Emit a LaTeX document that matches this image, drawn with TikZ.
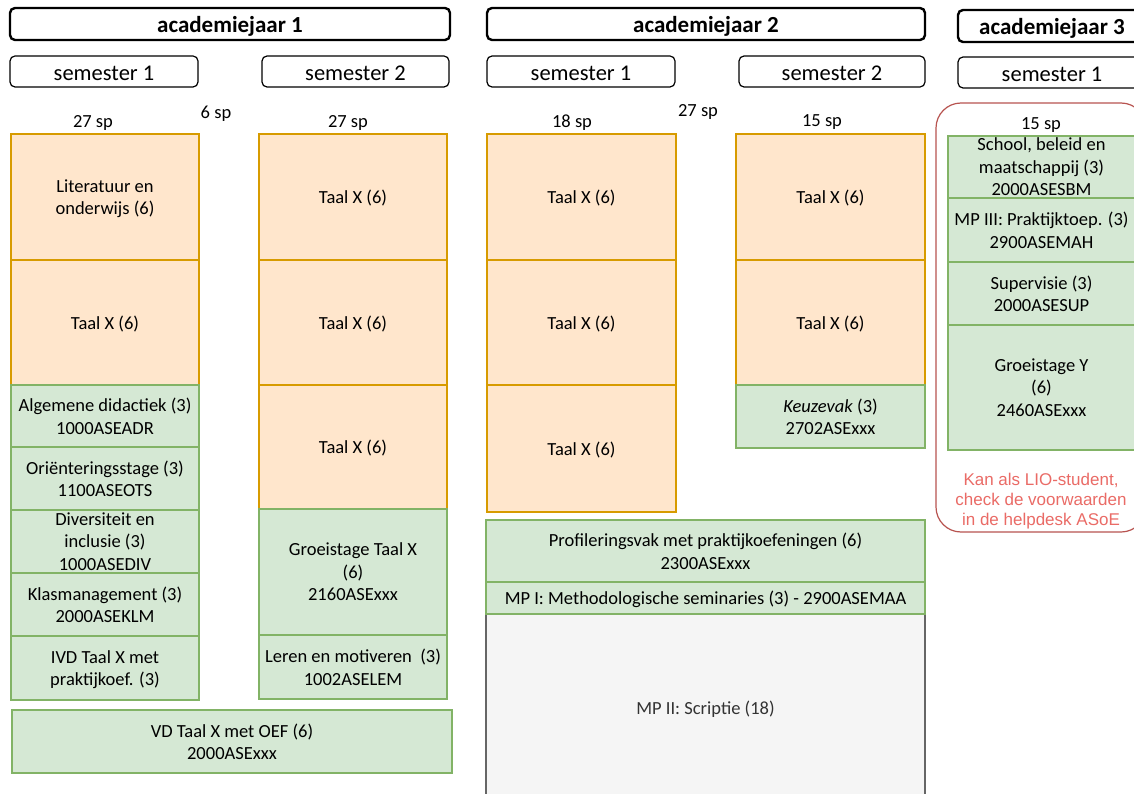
\documentclass[tikz,border=0pt]{standalone}
\usepackage{fontspec}
\setmainfont{Carlito}
\newfontfamily\arialf{Liberation Sans}
\definecolor{orfill}{HTML}{FFE6CC}
\definecolor{ordraw}{HTML}{D79B00}
\definecolor{grfill}{HTML}{D5E8D4}
\definecolor{grdraw}{HTML}{82B366}
\definecolor{gyfill}{HTML}{F5F5F5}
\definecolor{gydraw}{HTML}{666666}
\definecolor{gytext}{HTML}{333333}
\definecolor{rddraw}{HTML}{B85450}
\definecolor{rdtext}{HTML}{EA6B66}
\tikzset{
  every node/.style={text depth=0pt},
  cell/.style={draw, align=center, inner sep=0pt, outer sep=0pt, line width=1.2pt,
    font={\fontsize{18.5}{22.5}\selectfont}},
  orangecell/.style={cell, fill=orfill, draw=ordraw},
  greencell/.style={cell, fill=grfill, draw=grdraw},
  graycell/.style={cell, fill=gyfill, draw=gydraw, text=gytext},
  yearbox/.style={draw, rounded corners=5pt, line width=2.4pt, inner sep=0pt,
    font={\bfseries\fontsize{23}{26}\selectfont}},
  sembox/.style={draw, rounded corners=5pt, line width=1.2pt, inner sep=0pt,
    font={\fontsize{22.5}{26}\selectfont}},
  splabel/.style={inner sep=0pt, font={\fontsize{18.5}{22}\selectfont}},
  notebox/.style={draw=rddraw, rounded corners=25pt, line width=1.2pt},
  notetext/.style={align=center, inner sep=0pt, text=rdtext,
    font={\arialf\fontsize{17}{20}\selectfont}}
}
% \cbox{name}{style}{x1}{y1}{x2}{y2}{text}
\newcommand{\cbox}[7]{%
  \node[#2, minimum width={(#5-#3)*1pt}, minimum height={(#6-#4)*1pt}]
    (#1) at ({(#3+#5)/2},{(#4+#6)/2}) {#7};}
\newcommand{\lowr}[1]{\raisebox{-4pt}{#1}}
\begin{document}
\begin{tikzpicture}[x=1pt,y=-1pt]
\useasboundingbox (0,0) rectangle (1134,794);
\clip (0,0) rectangle (1134,794);
\fill[white] (0,0) rectangle (1134,794);

% headers
\cbox{y1}{yearbox}{10}{8}{450}{40}{academiejaar 1}
\cbox{y2}{yearbox}{487}{8}{925}{40}{academiejaar 2}
\cbox{y3}{yearbox}{958}{10}{1146}{42}{academiejaar 3}
\cbox{s11}{sembox}{10}{56}{198}{87}{\lowr{semester 1}}
\cbox{s12}{sembox}{262}{56}{449}{87}{\lowr{semester 2}}
\cbox{s21}{sembox}{487}{56}{675}{87}{\lowr{semester 1}}
\cbox{s22}{sembox}{739}{56}{925}{87}{\lowr{semester 2}}
\cbox{s31}{sembox}{958}{57}{1146}{88}{\lowr{semester 1}}

% credit labels
\node[splabel] (sp11) at (93,121) {27 sp};
\node[splabel] (sp1x) at (216,112) {6 sp};
\node[splabel] (sp12) at (348,121) {27 sp};
\node[splabel] (sp21) at (572,121) {18 sp};
\node[splabel] (sp2x) at (698,110) {27 sp};
\node[splabel] (sp22) at (822,121) {15 sp};

% year 3 note frame
\draw[notebox] (936,103) rectangle (1146,532);
\node[splabel] (sp31) at (1041,124) {15 sp};

% year 1, semester 1
\cbox{a1}{orangecell}{11}{134}{199}{260}{Literatuur en\\onderwijs (6)}
\cbox{a2}{orangecell}{11}{260}{199}{385}{Taal X (6)}
\cbox{a3}{greencell}{11}{385}{199}{447}{Algemene didactiek (3)\\1000ASEADR}
\cbox{a4}{greencell}{11}{447}{199}{510}{Oriënteringsstage (3)\\1100ASEOTS}
\cbox{a5}{greencell}{11}{510}{199}{573}{Diversiteit en\\inclusie (3)\\1000ASEDIV}
\cbox{a6}{greencell}{11}{573}{199}{636}{Klasmanagement (3)\\2000ASEKLM}
\cbox{a7}{greencell}{11}{636}{199}{700}{IVD Taal X met\\praktijkoef. (3)}
\cbox{a8}{greencell}{12}{710}{452}{773}{VD Taal X met OEF (6)\\2000ASExxx}

% year 1, semester 2
\cbox{b1}{orangecell}{259}{134}{447}{260}{Taal X (6)}
\cbox{b2}{orangecell}{259}{260}{447}{385}{Taal X (6)}
\cbox{b3}{orangecell}{259}{385}{447}{509}{Taal X (6)}
\cbox{b4}{greencell}{259}{509}{447}{635}{Groeistage Taal X\\(6)\\2160ASExxx}
\cbox{b5}{greencell}{259}{635}{447}{699}{Leren en motiveren~~(3)\\1002ASELEM}

% year 2, semester 1
\cbox{c1}{orangecell}{487}{134}{676}{260}{Taal X (6)}
\cbox{c2}{orangecell}{487}{260}{676}{385}{Taal X (6)}
\cbox{c3}{orangecell}{487}{385}{676}{512}{Taal X (6)}
\cbox{c4}{greencell}{486}{520}{925}{582}{Profileringsvak met praktijkoefeningen (6)\\2300ASExxx}
\cbox{c6}{graycell}{486}{614}{925}{802}{MP II: Scriptie (18)}
\cbox{c5}{greencell}{486}{582}{925}{614}{MP I: Methodologische seminaries (3) - 2900ASEMAA}

% year 2, semester 2
\cbox{d1}{orangecell}{736}{134}{925}{260}{Taal X (6)}
\cbox{d2}{orangecell}{736}{260}{925}{385}{Taal X (6)}
\cbox{d3}{greencell}{736}{385}{925}{448}{\textit{Keuzevak} (3)\\2702ASExxx}

% year 3, semester 1
\cbox{e1}{greencell}{948}{136}{1135}{198}{School, beleid en\\maatschappij (3)\\2000ASESBM}
\cbox{e2}{greencell}{948}{198}{1135}{262}{MP III: Praktijktoep. (3)\\2900ASEMAH}
\cbox{e3}{greencell}{948}{262}{1135}{325}{Supervisie (3)\\2000ASESUP}
\cbox{e4}{greencell}{948}{325}{1135}{450}{Groeistage Y\\(6)\\2460ASExxx}

\node[notetext] (note) at (1041,499) {Kan als LIO-student,\\check de voorwaarden\\in de helpdesk ASoE};
\end{tikzpicture}
\end{document}
